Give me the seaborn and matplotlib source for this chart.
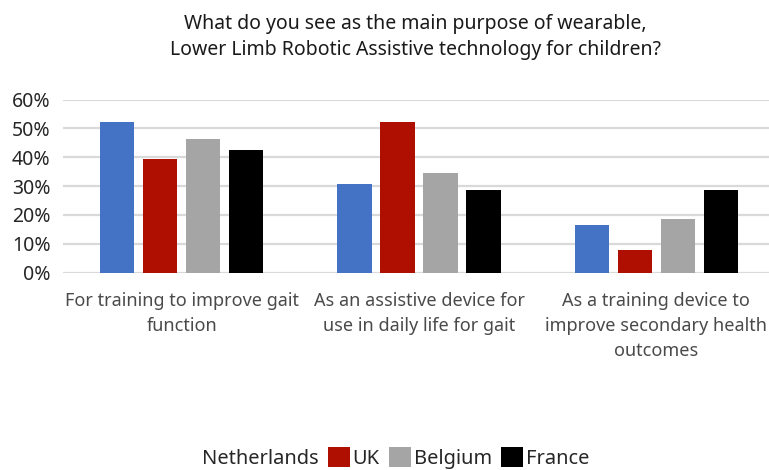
import matplotlib
matplotlib.use("Agg")
import matplotlib.pyplot as plt
import seaborn as sns
import pandas as pd
from matplotlib.patches import Patch

categories = ["For training to improve gait\nfunction",
              "As an assistive device for\nuse in daily life for gait",
              "As a training device to\nimprove secondary health\noutcomes"]
countries = ["Netherlands", "UK", "Belgium", "France"]
netherlands = [0.523, 0.309, 0.165]
uk = [0.394, 0.522, 0.079]
belgium = [0.462, 0.346, 0.186]
france = [0.427, 0.285, 0.285]
colors = ["#4472C4", "#AE0F00", "#A5A5A5", "#000000"]
yticks = [0, 0.1, 0.2, 0.3, 0.4, 0.5, 0.6]
ytick_labels = ["0%", "10%", "20%", "30%", "40%", "50%", "60%"]
title = "What do you see as the main purpose of wearable,\nLower Limb Robotic Assistive technology for children?"

rows = []
for c, vals in zip(countries, [netherlands, uk, belgium, france]):
    for cat, v in zip(categories, vals):
        rows.append({"cat": cat, "country": c, "value": v})
df = pd.DataFrame(rows)

sns.set_theme(style="white")
plt.rcParams['font.family'] = ['Noto Sans', 'DejaVu Sans']

fig = plt.figure(figsize=(7.69, 4.70), dpi=100)
ax = fig.add_axes([63/769, 197.3/470, 712/769, 173.1/470])
sns.barplot(data=df, x="cat", y="value", hue="country", hue_order=countries,
            palette=colors, saturation=1, width=0.724, gap=0.2, ax=ax, legend=False,
            edgecolor="none", linewidth=0)
ax.set_ylim(0, 0.6)
ax.set_yticks(yticks)
ax.set_yticklabels(ytick_labels, fontsize=14, color="#262626")
ax.tick_params(axis="y", length=0, pad=9)
ax.tick_params(axis="x", length=0, pad=14)
ax.set_xticks(range(len(categories)))
ax.set_xticklabels(categories, fontsize=13, color="#4a4a4a", linespacing=1.5)
ax.set_xlabel("")
ax.set_ylabel("")
ax.set_xlim(-0.5, 2.5)
ax.yaxis.grid(True, color="#d9d9d9", linewidth=1.6)
ax.set_axisbelow(True)
for s in ax.spines.values():
    s.set_visible(False)

fig.text(415/769, 1 - 37/470, title, ha="center", va="center", fontsize=14,
         color="#1a1a1a", linespacing=1.45)

handles = [Patch(facecolor="none", edgecolor="none")] + \
          [Patch(facecolor=c, edgecolor="none") for c in colors[1:]]
fig.legend(handles, countries, loc="center", bbox_to_anchor=(383/769, 12/470),
           ncol=4, frameon=False, fontsize=14.4, handlelength=1.1, handleheight=1.1,
           handletextpad=0.15, columnspacing=0.45, labelcolor="#262626")

fig.savefig("out.png", dpi=100)
